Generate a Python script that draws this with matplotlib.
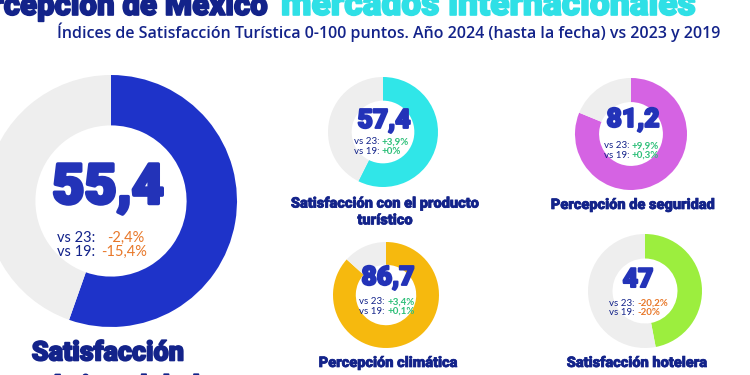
import matplotlib
matplotlib.use("Agg")
import matplotlib.pyplot as plt
import matplotlib.patheffects as pe

# ---- data ----
labels = ["Satisfacción\nturística global", "Satisfacción con el producto\nturístico",
          "Percepción de seguridad", "Percepción climática", "Satisfacción hotelera"]
values = [55.4, 57.4, 81.2, 86.7, 47.0]
value_text = ["55,4", "57,4", "81,2", "86,7", "47"]
vs23 = ["-2,4%", "+3,9%", "+9,9%", "+3,4%", "-20,2%"]
vs19 = ["-15,4%", "+0%", "+0,3%", "+0,1%", "-20%"]
colors = ["#1E33C9", "#30E6E8", "#D563E3", "#F6B90E", "#9CEE3E"]

title_a = "Percepción de México"
title_b = "mercados internacionales"
subtitle = "Índices de Satisfacción Turística 0-100 puntos. Año 2024 (hasta la fecha) vs 2023 y 2019"

# layout (pixel coordinates, y downward)
centers = [(111, 201), (383, 132), (631, 134), (386, 295), (645, 291)]
radii = [126, 55, 56, 53, 57]
hole = [0.60, 0.57, 0.57, 0.57, 0.57]

W, H = 750, 375
NAVY = "#13238A"
NUM = "#2333B8"
ORANGE = "#E8782A"
GREEN = "#2DBF78"
GREY = "#EEEEEE"
HEAVY = "Roboto"

def bold_fx(color, lw):
    return [pe.withStroke(linewidth=lw, foreground=color)]

fig = plt.figure(figsize=(7.5, 3.75), dpi=100)
ax = fig.add_axes([0, 0, 1, 1])

for i, v in enumerate(values):
    cx, cy = centers[i]
    ax.pie([v, 100 - v], colors=[colors[i], GREY], startangle=90, counterclock=False,
           center=(cx, H - cy), radius=radii[i],
           wedgeprops=dict(width=radii[i] * (1 - hole[i]), linewidth=0))

ax.set_xlim(0, W)
ax.set_ylim(0, H)
ax.set_aspect("equal")
ax.axis("off")

def T(x, y, s, **kw):
    ax.text(x, H - y, s, **kw)

# title
T(268, 15, title_a, ha="right", va="baseline", fontsize=22.5, color=NAVY,
  family=HEAVY, fontweight="black", path_effects=bold_fx(NAVY, 1.2))
T(695, 15, title_b, ha="right", va="baseline", fontsize=25.5, color="#2FE0E6",
  family=HEAVY, fontweight="black", path_effects=bold_fx("#2FE0E6", 1.2))
T(720, 32, subtitle, ha="right", va="center", fontsize=11.5, color=NAVY,
  family="Open Sans", fontweight="semibold")

# big donut texts
T(108, 188, value_text[0], ha="center", va="center", fontsize=40, color=NUM,
  family=HEAVY, fontweight="black", path_effects=bold_fx(NUM, 2.5))
T(57, 238, "vs 23:", ha="left", va="center", fontsize=10.5, color=NAVY, family="Lato")
T(107, 238, vs23[0], ha="left", va="center", fontsize=10.5, color=ORANGE, family="Lato")
T(57, 252, "vs 19:", ha="left", va="center", fontsize=10.5, color=NAVY, family="Lato")
T(101, 252, vs19[0], ha="left", va="center", fontsize=10.5, color=ORANGE, family="Lato")
T(108, 353, "Satisfacción", ha="center", va="center", fontsize=19.5, color=NAVY,
  family=HEAVY, fontweight="black", path_effects=bold_fx(NAVY, 1.2))
T(108, 387, "turística global", ha="center", va="center", fontsize=19.5, color=NAVY,
  family=HEAVY, fontweight="black", path_effects=bold_fx(NAVY, 1.2))

# small donuts
num_pos = [None, (384, 121), (633, 120), (388, 278), (638, 280)]
vs_pos = [None, (383, 142), (633, 146), (388, 302), (638, 303)]
lab_pos = [None, (385, 212), (633, 205), (388, 363), (637, 363)]
for i in range(1, 5):
    nx, ny = num_pos[i]
    T(nx, ny, value_text[i], ha="center", va="center", fontsize=19, color=NUM,
      family=HEAVY, fontweight="black", path_effects=bold_fx(NUM, 1.5))
    vx, vy = vs_pos[i]
    c = GREEN if vs23[i].startswith("+") else ORANGE
    T(vx - 1, vy, "vs 23: ", ha="right", va="center", fontsize=7, color=NAVY, family="Lato")
    T(vx - 1, vy, vs23[i], ha="left", va="center", fontsize=7, color=c, family="Lato",
      fontweight="bold")
    c = GREEN if vs19[i].startswith("+") else ORANGE
    T(vx - 1, vy + 9.5, "vs 19: ", ha="right", va="center", fontsize=7, color=NAVY, family="Lato")
    T(vx - 1, vy + 9.5, vs19[i], ha="left", va="center", fontsize=7, color=c, family="Lato",
      fontweight="bold")
    lx, ly = lab_pos[i]
    T(lx, ly, labels[i], ha="center", va="center", fontsize=10.5, color=NAVY,
      family=HEAVY, fontweight="black", linespacing=1.25, path_effects=bold_fx(NAVY, 0.5))

fig.savefig("out.png", dpi=100, facecolor="white")
